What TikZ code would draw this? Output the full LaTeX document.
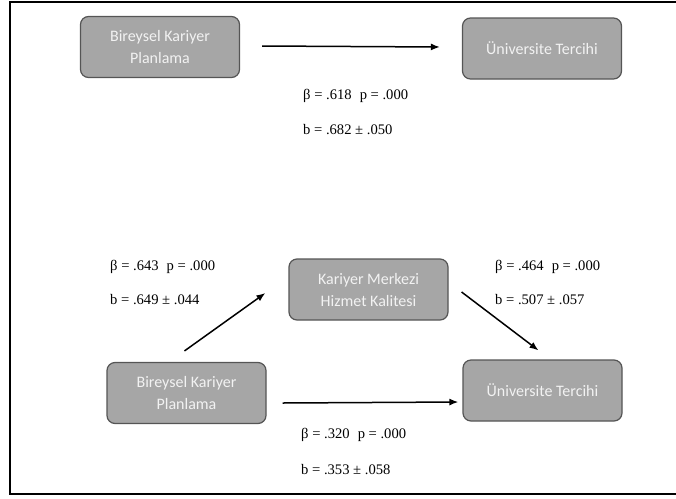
\documentclass[tikz,border=0pt]{standalone}
\usepackage{fontspec}
\setmainfont{Liberation Serif}
\newfontfamily\boxfont{Carlito}
\usetikzlibrary{arrows.meta,calc}
\definecolor{boxgray}{RGB}{166,166,166}
\definecolor{boxedge}{RGB}{85,85,85}
\definecolor{boxtext}{RGB}{242,242,242}

\begin{document}
\begin{tikzpicture}[x=1pt,y=-1pt,
  varbox/.style={draw=boxedge,line width=1.2pt,rounded corners=8pt,fill=boxgray,minimum width=159pt,minimum height=61pt,text=boxtext,font=\boxfont\fontsize{16}{22}\selectfont,align=center},
  stat/.style={anchor=west,inner sep=0pt,font=\fontsize{14.6}{17}\selectfont},
  effect/.style={-{Latex[length=9pt,width=7pt]},line width=1.5pt}]
\useasboundingbox (0,0) rectangle (676,498);
\draw[line width=1.5pt] (676,2) -- (10,2) -- (10,494) -- (676,494);

% model 1: total effect
\node[varbox] (plan1) at (160,47) {Bireysel Kariyer\\Planlama};
\node[varbox] (tercih1) at (542,48.5) {Üniversite Tercihi};
\draw[effect] ($(plan1.east)+(22,-1)$) -- ($(tercih1.west)+(-22,-1.5)$);
\node[stat] (beta1) at (303,96) {β = .618\hspace{0.55em}p = .000};
\node[stat] (b1) at (303,130) {b = .682 ± .050};

% model 2: mediation
\node[varbox] (merkez) at (368.5,289.5) {Kariyer Merkezi\\Hizmet Kalitesi};
\node[varbox] (plan2) at (186.5,393) {Bireysel Kariyer\\Planlama};
\node[varbox] (tercih2) at (542.5,390.5) {Üniversite Tercihi};
\draw[effect] ($(plan2.north)+(-2,-11)$) -- ($(merkez.west)+(-23,3.5)$);
\draw[effect] ($(merkez.east)+(13,2.5)$) -- ($(tercih2.north)+(-4,-9)$);
\draw[effect] ($(plan2.east)+(16,10)$) -- ($(tercih2.west)+(-4,11.5)$);
\node[stat] (beta2) at (110,267) {β = .643\hspace{0.55em}p = .000};
\node[stat] (b2) at (110,300) {b = .649 ± .044};
\node[stat] (beta3) at (495,267) {β = .464\hspace{0.55em}p = .000};
\node[stat] (b3) at (495,300) {b = .507 ± .057};
\node[stat] (beta4) at (301,435) {β = .320\hspace{0.55em}p = .000};
\node[stat] (b4) at (301,470) {b = .353 ± .058};
\end{tikzpicture}
\end{document}
